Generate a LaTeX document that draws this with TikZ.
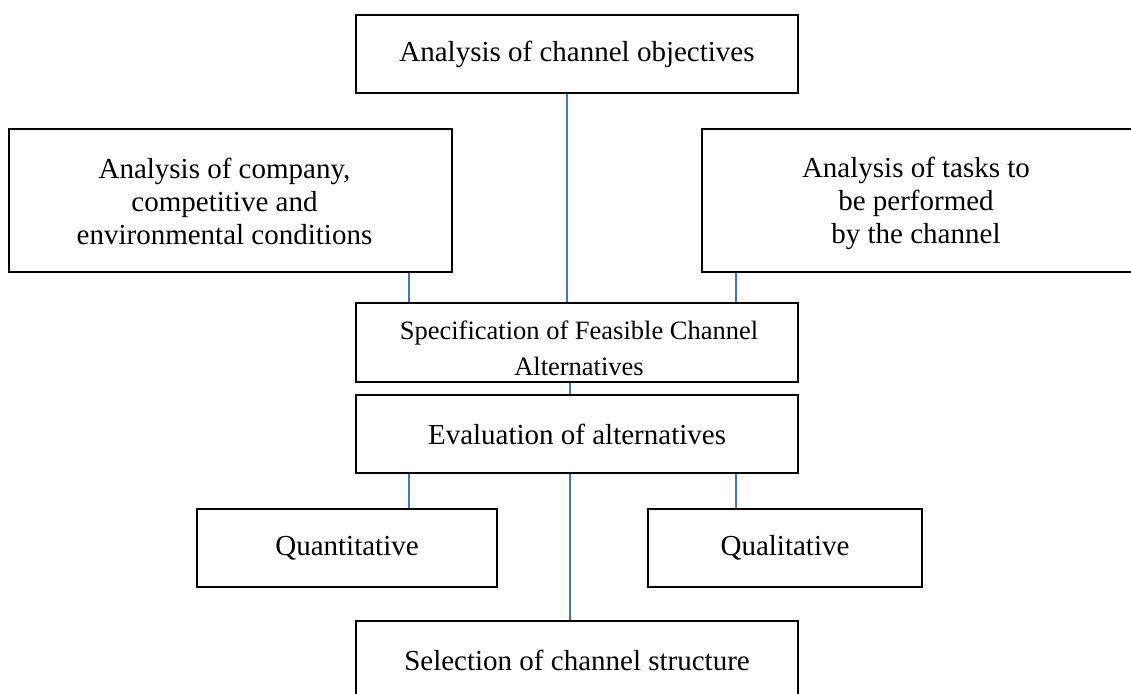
\documentclass[tikz,border=0pt]{standalone}
\usepackage{fontspec}
\setmainfont{Liberation Serif}
\definecolor{linkblue}{RGB}{68,114,196}
% centred lines, shifted right by #1 and lowered by #2 without changing the box size
\newcommand{\stacklines}[3]{\hspace*{#1}\raisebox{-#2}[\height][\depth]{\begin{tabular}{@{}c@{}}#3\end{tabular}}}
\begin{document}
\begin{tikzpicture}[x=1pt,y=-1pt,
  box/.style={draw=black,line width=1.8pt,inner sep=0pt,align=center,
              font=\fontsize{29}{33}\selectfont},
  link/.style={draw=linkblue,line width=1.5pt}]
\useasboundingbox[fill=white] (0,0) rectangle (1131,693);

% x positions of the vertical connectors
\coordinate (cT) at (567,0);
\coordinate (cM) at (570,0);
\coordinate (cL) at (409,0);
\coordinate (cR) at (736,0);

% boxes
\node[box,minimum width=442,minimum height=78] (obj) at (577,54)
  {Analysis of channel objectives};
\node[box,minimum width=443,minimum height=143] (comp) at (230.5,200.5)
  {\stacklines{-12pt}{4pt}{Analysis of company,\\competitive and\\environmental conditions}};
\node[box,minimum width=432,minimum height=143] (task) at (918,200.5)
  {\stacklines{-4pt}{3pt}{Analysis of tasks to\\be performed\\by the channel}};
\node[box,minimum width=442,minimum height=79,
      font=\fontsize{26.5}{36}\selectfont] (spec) at (577,342.5)
  {\stacklines{4pt}{8pt}{Specification of Feasible Channel\\[-0.5pt]Alternatives}};
\node[box,minimum width=442,minimum height=78] (eval) at (577,434)
  {Evaluation of alternatives};
\node[box,minimum width=300,minimum height=78] (quant) at (347,548)
  {Quantitative};
\node[box,minimum width=274,minimum height=78] (qual) at (785,548)
  {Qualitative};
\node[box,minimum width=442,minimum height=78] (sel) at (577,660)
  {Selection of channel structure};

% connectors
\draw[link] (obj.south -| cT) -- (spec.north -| cT);
\draw[link] (comp.south -| cL) -- (spec.north -| cL);
\draw[link] (task.south -| cR) -- (spec.north -| cR);
\draw[link] (spec.south -| cM) -- (eval.north -| cM);
\draw[link] (eval.south -| cL) -- (quant.north -| cL);
\draw[link] (eval.south -| cR) -- (qual.north -| cR);
\draw[link] (eval.south -| cM) -- (sel.north -| cM);
\end{tikzpicture}
\end{document}
